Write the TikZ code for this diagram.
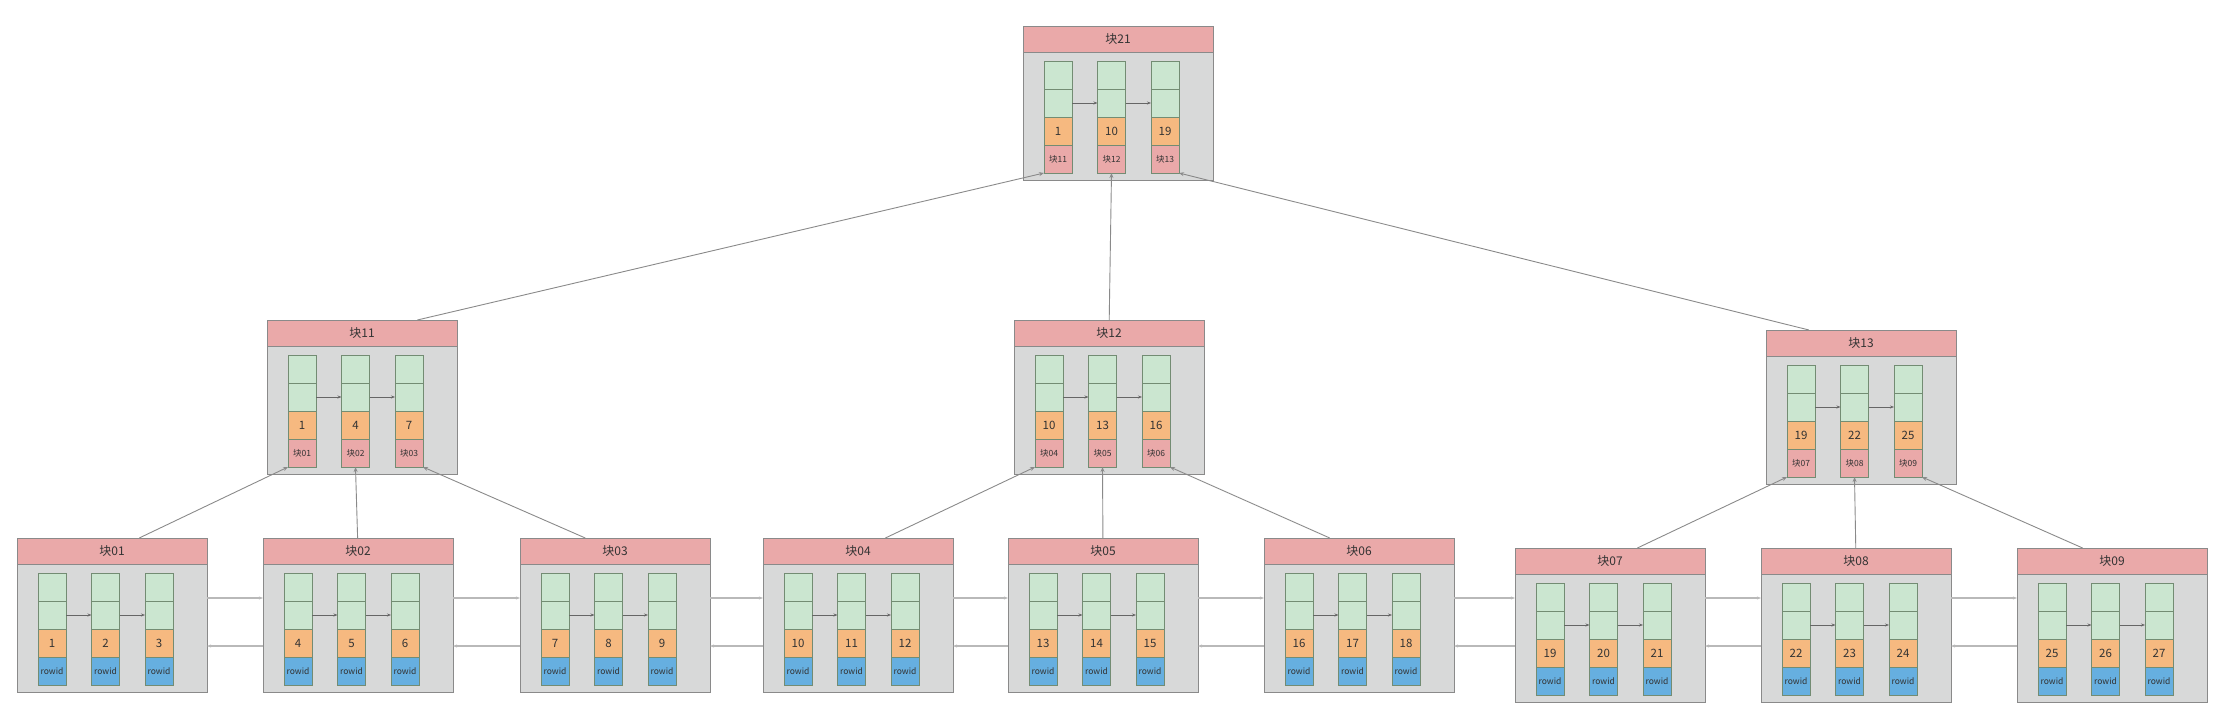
\documentclass[tikz,border=0pt]{standalone}
\usepackage{fontspec}
\setmainfont{Noto Sans CJK SC}
\usepackage{tikz}
\usetikzlibrary{positioning, arrows.meta, calc}

\definecolor{headred}{HTML}{EAA9A9}
\definecolor{bodygray}{HTML}{D8D9D9}
\definecolor{cellgreen}{HTML}{CBE6D0}
\definecolor{keyorange}{HTML}{F6B980}
\definecolor{rowblue}{HTML}{66AFE0}
\definecolor{linegray}{HTML}{8A8A8A}
\definecolor{textgray}{HTML}{333333}

% one block: name, top-left corner, title, keys/pointers, style of the last cell
\newcommand{\blk}[5]{%
  \node[head, anchor=north west] (#1) at (#2) {#3};
  \node[body, anchor=north west] (#1-body) at (#1.south west) {};
  \foreach \k/\p [count=\i] in {#4} {
    \node[green] (#1-a\i) at ($(#1-body.north west)+({35+53.5*(\i-1)},23)$) {};
    \node[green, anchor=north] (#1-b\i) at (#1-a\i.south) {};
    \node[keycell, anchor=north] (#1-k\i) at (#1-b\i.south) {\k};
    \node[#5, anchor=north] (#1-p\i) at (#1-k\i.south) {\p};
  }
  \draw[cellarrow] (#1-b1) -- (#1-b2);
  \draw[cellarrow] (#1-b2) -- (#1-b3);
}

\begin{document}
\begin{tikzpicture}[
  x=1pt, y=-1pt,
  head/.style={draw=linegray, line width=1pt, fill=headred, minimum width=190,
               minimum height=26, inner sep=0pt, outer sep=0pt, font=\fontsize{12}{12}\selectfont, text=textgray},
  body/.style={draw=linegray, line width=1pt, fill=bodygray, minimum width=190,
               minimum height=128, inner sep=0pt, outer sep=0pt},
  green/.style={draw=gray!90!green, line width=0.9pt, fill=cellgreen, minimum width=28,
                minimum height=28, inner sep=0pt, outer sep=0pt},
  keycell/.style={green, fill=keyorange, font=\fontsize{11.5}{11.5}\selectfont, text=textgray},
  ptrcell/.style={green, fill=headred, font=\fontsize{8.5}{8.5}\selectfont, text=textgray},
  rowcell/.style={green, fill=rowblue, font=\fontsize{8.5}{8.5}\selectfont, text=textgray},
  cellarrow/.style={-{Stealth[length=4pt, width=3pt]}, line width=0.8pt, draw=gray!80!black},
  edge/.style={-{Stealth[length=5pt, width=4pt]}, line width=0.9pt, draw=linegray},
  link/.style={-{Stealth[length=4pt, width=3pt]}, line width=1.8pt, draw=gray!55}
]
\useasboundingbox (0,0) rectangle (2220,715);

% root
\blk{b21}{1023,26}{块21}{1/块11,10/块12,19/块13}{ptrcell}

% middle level
\blk{b11}{267,320}{块11}{1/块01,4/块02,7/块03}{ptrcell}
\blk{b12}{1014,320}{块12}{10/块04,13/块05,16/块06}{ptrcell}
\blk{b13}{1766,330}{块13}{19/块07,22/块08,25/块09}{ptrcell}

% leaves
\blk{b01}{17,538}{块01}{1/rowid,2/rowid,3/rowid}{rowcell}
\blk{b02}{263,538}{块02}{4/rowid,5/rowid,6/rowid}{rowcell}
\blk{b03}{520,538}{块03}{7/rowid,8/rowid,9/rowid}{rowcell}
\blk{b04}{763,538}{块04}{10/rowid,11/rowid,12/rowid}{rowcell}
\blk{b05}{1008,538}{块05}{13/rowid,14/rowid,15/rowid}{rowcell}
\blk{b06}{1264,538}{块06}{16/rowid,17/rowid,18/rowid}{rowcell}
\blk{b07}{1515,548}{块07}{19/rowid,20/rowid,21/rowid}{rowcell}
\blk{b08}{1761,548}{块08}{22/rowid,23/rowid,24/rowid}{rowcell}
\blk{b09}{2017,548}{块09}{25/rowid,26/rowid,27/rowid}{rowcell}

% pointers up the tree
\draw[edge] (b11) -- (b21-p1.south west);
\draw[edge] (b12) -- (b21-p2.south);
\draw[edge] (b13) -- (b21-p3.south east);

\draw[edge] (b01) -- (b11-p1.south west);
\draw[edge] (b02) -- (b11-p2.south);
\draw[edge] (b03) -- (b11-p3.south east);
\draw[edge] (b04) -- (b12-p1.south west);
\draw[edge] (b05) -- (b12-p2.south);
\draw[edge] (b06) -- (b12-p3.south east);
\draw[edge] (b07) -- (b13-p1.south west);
\draw[edge] (b08) -- (b13-p2.south);
\draw[edge] (b09) -- (b13-p3.south east);

% links between leaves
\coordinate (upper) at (0,598);
\coordinate (lower) at (0,646);
\foreach \lft/\rgt in {b01/b02,b02/b03,b03/b04,b04/b05,b05/b06,b06/b07,b07/b08,b08/b09} {
  \draw[link] (\lft-body.east |- upper) -- (\rgt-body.west |- upper);
  \draw[link] (\rgt-body.west |- lower) -- (\lft-body.east |- lower);
}

\end{tikzpicture}
\end{document}
